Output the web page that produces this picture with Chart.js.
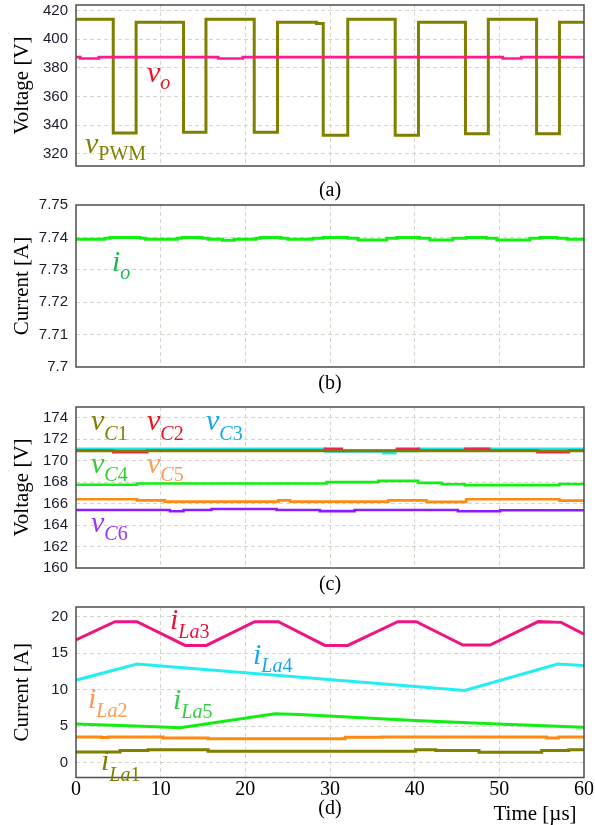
<!DOCTYPE html>
<html>
<head>
<meta charset="utf-8">
<script src="https://cdn.jsdelivr.net/npm/chart.js@4.4.1/dist/chart.umd.min.js"></script>
<style>
  body { margin: 0; background: #fff; }
  #wrap { position: relative; width: 595px; height: 825px; overflow: hidden; }
  .panel { position: absolute; left: 0; }
  .lab { position: absolute; font: italic 30px 'Liberation Serif', serif; line-height: 1; white-space: nowrap; z-index: 5; }
  .lab sub { font-size: 20px; line-height: 1; }
  .up { font-style: normal; }
  .cap { position: absolute; font: 20px 'Liberation Serif', serif; line-height: 1; transform: translate(-50%, -50%); white-space: nowrap; z-index: 5; }
</style>
</head>
<body>
<div id="wrap">
  <canvas id="chartA" class="panel" width="595" height="172" style="top:0px"></canvas>
  <canvas id="chartB" class="panel" width="595" height="185" style="top:190px"></canvas>
  <canvas id="chartC" class="panel" width="595" height="180" style="top:395px"></canvas>
  <canvas id="chartD" class="panel" width="595" height="210" style="top:595px"></canvas>

  <!-- series labels: left = x of main letter, top = baseline - 25 -->
  <div class="lab" style="left:147px;top:57px;color:#f0101e">v<sub style="vertical-align:-7px">o</sub></div>
  <div class="lab" style="left:85px;top:128px;color:#7f7f00">v<sub class="up" style="vertical-align:-7px">PWM</sub></div>

  <div class="lab" style="left:112px;top:246px;color:#1fb84a">i<sub style="vertical-align:-8px">o</sub></div>

  <div class="lab" style="left:91px;top:405px;color:#7f7f00">v<sub style="vertical-align:-10px">C<span class="up">1</span></sub></div>
  <div class="lab" style="left:147px;top:405px;color:#f0101e">v<sub style="vertical-align:-10px">C<span class="up">2</span></sub></div>
  <div class="lab" style="left:206px;top:405px;color:#1aa8e8">v<sub style="vertical-align:-10px">C<span class="up">3</span></sub></div>
  <div class="lab" style="left:91px;top:448px;color:#33cc33">v<sub style="vertical-align:-8px">C<span class="up">4</span></sub></div>
  <div class="lab" style="left:147px;top:448px;color:#ff9955">v<sub style="vertical-align:-8px">C<span class="up">5</span></sub></div>
  <div class="lab" style="left:91px;top:507px;color:#9933ff">v<sub style="vertical-align:-8px">C<span class="up">6</span></sub></div>

  <div class="lab" style="left:170px;top:604px;color:#e8103c">i<sub style="vertical-align:-9px">La<span class="up">3</span></sub></div>
  <div class="lab" style="left:253px;top:639px;color:#1aa8e8">i<sub style="vertical-align:-8px">La<span class="up">4</span></sub></div>
  <div class="lab" style="left:88px;top:683px;color:#ff9955">i<sub style="vertical-align:-9px">La<span class="up">2</span></sub></div>
  <div class="lab" style="left:173px;top:684px;color:#33cc44">i<sub style="vertical-align:-9px">La<span class="up">5</span></sub></div>
  <div class="lab" style="left:101px;top:745px;color:#7f7f00">i<sub style="vertical-align:-11px">La<span class="up">1</span></sub></div>

  <div class="cap" style="left:330px;top:189px">(a)</div>
  <div class="cap" style="left:330px;top:382px">(b)</div>
  <div class="cap" style="left:330px;top:583px">(c)</div>
  <div class="cap" style="left:330px;top:807px">(d)</div>
  <div class="cap" style="left:535px;top:813px;font-size:21px">Time [µs]</div>
</div>

<script>
// ---- shared time axis -------------------------------------------------------
const timeTicks = [0, 10, 20, 30, 40, 50, 60];

// ---- (a) PWM voltage and output voltage -------------------------------------
const voltTicksA = [320, 340, 360, 380, 400, 420];
const pwmT = [0, 4.4, 7.1, 12.7, 15.35, 21.05, 23.8, 28.4, 29.2, 32.1, 37.7, 40.45, 46.0, 48.7, 54.4, 57.1, 60];
const pwmV = [414, 334.5, 412, 335, 414, 335, 412, 411, 333, 414, 333, 412, 334, 414, 334, 412, 412];
const voT  = [0, 0.5, 2.7, 16.8, 19.7, 50.4, 52.6, 60];
const voV  = [387.6, 386.6, 387.6, 386.6, 387.6, 386.6, 387.6, 387.6];

// ---- (b) output current -----------------------------------------------------
const currTicksB = [7.70, 7.71, 7.72, 7.73, 7.74, 7.75];
const ioT = [0, 3.4, 4.0, 7.6, 8.2, 12.0, 12.5, 14.9, 15.6, 17.3, 18.7, 21.3, 21.8, 24.2, 25.0, 28.0,
             29.2, 32.1, 33.3, 36.7, 37.9, 40.6, 41.8, 44.5, 46.1, 48.5, 49.7, 53.6, 54.8, 56.8, 58.0, 60];
const ioV = [7.7394, 7.7397, 7.7400, 7.7397, 7.7394, 7.7397, 7.7400, 7.7397, 7.7394, 7.7391, 7.7394, 7.7397, 7.7400, 7.7397, 7.7394, 7.7397,
             7.7400, 7.7397, 7.7392, 7.7397, 7.7400, 7.7397, 7.7392, 7.7397, 7.7400, 7.7397, 7.7392, 7.7397, 7.7400, 7.7397, 7.7394, 7.7394];

// ---- (c) capacitor voltages -------------------------------------------------
const voltTicksC = [160, 162, 164, 166, 168, 170, 172, 174];
const c1T = [0, 60];
const c1V = [170.9, 170.9];
const c2T = [0, 4.4, 8.4, 29.4, 31.4, 37.9, 40.5, 46.0, 48.8, 54.5, 58.2, 60];
const c2V = [170.95, 170.8, 170.95, 171.1, 170.95, 171.1, 170.95, 171.1, 170.95, 170.8, 170.95, 170.95];
const c3T = [0, 29.4, 36.3, 37.7, 40.5, 60];
const c3V = [171.1, 170.85, 170.7, 170.9, 171.1, 171.1];
const c4T = [0, 7.2, 29.6, 35.7, 40.4, 43.2, 45.9, 57.1, 60];
const c4V = [167.75, 167.87, 168.0, 168.12, 167.93, 167.8, 167.72, 167.82, 167.82];
const c5T = [0, 7.2, 10.5, 23.9, 25.3, 36.9, 41.4, 46.1, 57.1, 60];
const c5V = [166.4, 166.3, 166.18, 166.3, 166.18, 166.3, 166.16, 166.4, 166.28, 166.28];
const c6T = [0, 11.1, 12.7, 16.0, 23.7, 28.8, 32.9, 45.1, 50.1, 60];
const c6V = [165.4, 165.29, 165.4, 165.5, 165.4, 165.3, 165.4, 165.29, 165.38, 165.38];

// ---- (d) arm inductor currents ----------------------------------------------
const currTicksD = [0, 5, 10, 15, 20];
const la3T = [0, 4.6, 7.2, 12.9, 15.4, 21.1, 23.9, 29.4, 32.1, 38.0, 40.2, 45.7, 48.9, 54.6, 57.3, 60];
const la3V = [16.8, 19.3, 19.3, 16.05, 16.05, 19.3, 19.3, 16.05, 16.05, 19.3, 19.3, 16.1, 16.1, 19.3, 19.2, 17.6];
const la4T = [0, 7.2, 45.9, 56.9, 60];
const la4V = [11.3, 13.5, 9.9, 13.5, 13.3];
const la5T = [0, 9.5, 12.3, 23.5, 26.4, 40, 49.8, 60];
const la5V = [5.3, 4.95, 4.8, 6.7, 6.6, 5.8, 5.3, 4.85];
const la2T = [0, 3.0, 3.8, 10.3, 15.6, 31.8, 36.1, 55.6, 57.0, 60];
const la2V = [3.55, 3.45, 3.55, 3.4, 3.3, 3.5, 3.55, 3.4, 3.55, 3.55];
const la1T = [0, 5.2, 8.5, 15.6, 40.1, 42.5, 47.6, 55.0, 58.2, 60];
const la1V = [1.5, 1.7, 1.8, 1.6, 1.8, 1.7, 1.45, 1.7, 1.8, 1.8];

// ---- helpers ----------------------------------------------------------------
const gridCol = '#d6d6ca';
const pts = (t, v) => t.map((x, i) => ({ x, y: v[i] }));

// stepped series: each value holds from its own time until the next one
function series(t, v, color, stepped, width) {
    return {
        data: pts(t, v),
        borderColor: color,
        borderWidth: width || 2.6,
        pointRadius: 0,
        stepped: stepped ? 'before' : false,
        tension: 0,
        fill: false
    };
}

// frame round the plot area
const frame = {
    id: 'frame',
    afterDraw(chart) {
        const { ctx, chartArea: a } = chart;
        ctx.save();
        ctx.strokeStyle = '#4d4d4d';
        ctx.lineWidth = 1.5;
        ctx.strokeRect(a.left, a.top, a.right - a.left, a.bottom - a.top);
        ctx.restore();
    }
};

// hide the grid lines that sit on the frame
const gridColor = c => {
    const s = c.scale, v = c.tick ? c.tick.value : null;
    if (v === null || Math.abs(v - s.min) < 1e-9 || Math.abs(v - s.max) < 1e-9) return 'rgba(0,0,0,0)';
    return gridCol;
};

function makeChart(id, datasets, o) {
    return new Chart(document.getElementById(id), {
        type: 'line',
        data: { datasets },
        options: {
            responsive: false,
            animation: false,
            events: [],
            layout: { padding: { top: o.padTop, bottom: o.padBottom, left: 0, right: 11 } },
            plugins: { legend: { display: false }, tooltip: { enabled: false } },
            scales: {
                x: {
                    type: 'linear', min: 0, max: 60,
                    afterBuildTicks: s => { s.ticks = timeTicks.map(v => ({ value: v })); },
                    afterFit: s => { s.height = o.xHeight || 0; s.paddingLeft = 0; s.paddingRight = 0; },
                    grid: { color: gridColor, drawTicks: false, lineWidth: 1 },
                    border: { display: false, dash: [4, 3] },
                    ticks: {
                        display: !!o.xLabels, padding: 0, color: '#000',
                        font: { family: "'Liberation Serif', serif", size: 20 }
                    }
                },
                y: {
                    type: 'linear', min: o.yMin, max: o.yMax,
                    afterBuildTicks: s => { s.ticks = o.yTicks.map(v => ({ value: v })); },
                    afterFit: s => { s.width = 76; s.paddingTop = 0; s.paddingBottom = 0; },
                    grid: { color: gridColor, drawTicks: false, lineWidth: 1 },
                    border: { display: false, dash: [4, 3] },
                    ticks: {
                        padding: 8, color: '#1a1a2e',
                        font: { family: "'Liberation Sans', Arial, sans-serif", size: 15 },
                        callback: v => String(+v.toFixed(2))
                    },
                    title: {
                        display: true, text: o.yTitle, color: '#000',
                        padding: { top: 10, bottom: 0 },
                        font: { family: "'Liberation Serif', serif", size: 21 }
                    }
                }
            }
        },
        plugins: [frame]
    });
}

makeChart('chartA', [
    series(voT, voV, '#ff1a8c', true, 2.6),
    series(pwmT, pwmV, '#7f7f00', true, 3)
], { padTop: 5, padBottom: 6, yMin: 311.5, yMax: 424, yTicks: voltTicksA, yTitle: 'Voltage [V]' });

makeChart('chartB', [
    series(ioT, ioV, '#11f011', true, 3)
], { padTop: 15, padBottom: 8, yMin: 7.70, yMax: 7.75, yTicks: currTicksB, yTitle: 'Current [A]' });

makeChart('chartC', [
    series(c1T, c1V, '#7f7f00', true),
    series(c2T, c2V, '#f0205a', true),
    series(c3T, c3V, '#22e8ee', true),
    series(c4T, c4V, '#11f011', true),
    series(c5T, c5V, '#ff8a10', true),
    series(c6T, c6V, '#8a1cff', true)
], { padTop: 12, padBottom: 7, yMin: 160, yMax: 175, yTicks: voltTicksC, yTitle: 'Voltage [V]' });

makeChart('chartD', [
    series(la3T, la3V, '#f0157e', false, 3),
    series(la4T, la4V, '#22eef4', false, 3),
    series(la5T, la5V, '#11ee11', false, 3),
    series(la2T, la2V, '#ff8a10', true, 3),
    series(la1T, la1V, '#7f7f00', true, 3)
], { padTop: 12, padBottom: 5.5, xHeight: 22, xLabels: true, yMin: -2, yMax: 21.3, yTicks: currTicksD, yTitle: 'Current [A]' });
</script>
</body>
</html>
